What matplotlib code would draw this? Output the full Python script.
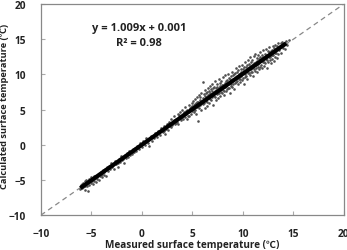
import matplotlib
matplotlib.use("Agg")
import matplotlib.pyplot as plt

plt.rcParams['font.family'] = ['Open Sans', 'Noto Sans CJK KR', 'DejaVu Sans']

measured = [
    -6.1, -6.0, -5.9, -5.8, -5.8, -5.7, -5.6, -5.6, -5.5, -5.5, -5.4, -5.4, -5.3, -5.3, -5.2, -5.2, -5.1, -5.0, -5.0, -4.9,
    -4.9, -4.8, -4.8, -4.7, -4.7, -4.6, -4.5, -4.5, -4.4, -4.3, -4.3, -4.2, -4.1, -4.0, -4.0, -3.9, -3.8, -3.7, -3.6, -3.5,
    -3.4, -3.3, -3.2, -3.1, -3.0, -2.9, -2.8, -2.7, -2.6, -2.5, -2.4, -2.3, -2.2, -2.1, -2.0, -1.9, -1.8, -1.7, -1.6, -1.5,
    -1.4, -1.3, -1.2, -1.1, -1.0, -0.9, -0.8, -0.7, -0.6, -0.5,
    -0.3, -0.2, 0.0, 0.1, 0.3, 0.4, 0.6, 0.7, 0.9, 1.0, 1.2, 1.3, 1.5, 1.6, 1.8, 1.9, 2.1, 2.2, 2.3, 2.4,
    2.5, 2.6, 2.7, 2.8, 2.9, 3.0, 3.1, 3.2, 3.3, 3.4, 3.5, 3.6, 3.6, 3.7, 3.8, 3.9, 4.0, 4.0, 4.1, 4.2,
    4.3, 4.3, 4.4, 4.5, 4.5, 4.6, 4.7, 4.7, 4.8, 4.9, 4.9, 5.0, 5.0,
    5.1, 5.1, 5.2, 5.2, 5.3, 5.3, 5.4, 5.4, 5.5, 5.5, 5.6, 5.6, 5.7, 5.7, 5.8, 5.8, 5.9, 5.9, 6.0, 6.0,
    6.0, 6.1, 6.1, 6.2, 6.2, 6.3, 6.3, 6.4, 6.4, 6.5, 6.5, 6.6, 6.6, 6.7, 6.7, 6.8, 6.8, 6.9, 6.9, 7.0,
    7.0, 7.1, 7.1, 7.2, 7.2, 7.3, 7.3, 7.4, 7.4, 7.5, 7.5, 7.6, 7.6, 7.7, 7.7, 7.8, 7.8, 7.9, 7.9, 8.0,
    8.0, 8.1, 8.1, 8.2, 8.2, 8.3, 8.3, 8.4, 8.4, 8.5, 8.5, 8.6, 8.6, 8.7, 8.7, 8.8, 8.8, 8.9, 8.9, 9.0,
    9.0, 9.1, 9.1, 9.2, 9.2, 9.3, 9.3, 9.4, 9.4, 9.5, 9.5, 9.6, 9.6, 9.7, 9.7, 9.8, 9.8, 9.9, 9.9, 10.0,
    10.0, 10.1, 10.1, 10.2, 10.2, 10.3, 10.3, 10.4, 10.4, 10.5, 10.5, 10.6, 10.6, 10.7, 10.7, 10.8, 10.8, 10.9, 10.9, 11.0,
    11.0, 11.1, 11.1, 11.2, 11.2, 11.3, 11.3, 11.4, 11.4, 11.5, 11.5, 11.6, 11.6, 11.7, 11.7, 11.8, 11.8, 11.9, 11.9, 12.0,
    12.0, 12.1, 12.1, 12.2, 12.2, 12.3, 12.3, 12.4, 12.4, 12.5, 12.5, 12.6, 12.6, 12.7, 12.7, 12.8, 12.8, 12.9, 12.9, 13.0,
    13.0, 13.1, 13.1, 13.2, 13.2, 13.3, 13.4, 13.4, 13.5, 13.5, 13.6, 13.7, 13.8, 13.9, 14.0, 14.1, 14.2, 14.3, 14.4, 14.6,
    2.2, 2.6, 2.9, 3.2, 3.4, 3.7, 3.9, 4.1, 4.4, 4.6, 4.8, 5.0, 5.2, 5.3, 5.5, 5.6, 5.8, 5.9, 6.1, 6.2,
    6.3, 6.4, 6.5, 6.6, 6.7, 6.8, 6.9, 7.0, 7.1, 7.2, 7.3, 7.4, 7.5, 7.6, 7.7, 7.8, 7.9, 8.0, 8.1, 8.2,
    8.3, 8.4, 8.5, 8.6, 8.7, 8.8, 8.9, 9.0, 9.1, 9.2, 9.3, 9.4, 9.5, 9.6, 9.7, 9.8, 9.9, 10.0, 10.1, 10.2,
    10.3, 10.4, 10.5, 10.6, 10.7, 10.8, 10.9, 11.0, 11.1, 11.2, 11.3, 11.4, 11.5, 11.6, 11.7, 11.8, 11.9, 12.0, 12.1, 12.2,
    12.3, 12.4, 12.5, 12.6, 12.7, 12.8, 12.9, 13.0, 13.1, 13.2, 13.3, 13.4, 13.6, 13.8, 14.0,
    -5.9, -5.6, -5.3, -5.0, -4.7, -4.4, -4.1, -3.8, -3.3, -2.9, -2.4, -1.9, -1.4, -0.9,
]
calculated = [
    -6.3, -5.7, -6.1, -5.4, -6.0, -5.9, -5.2, -6.4, -5.6, -5.0, -5.8, -5.3, -6.6, -5.5, -4.9, -5.7, -5.1, -5.4, -4.6, -5.2,
    -4.8, -5.6, -4.9, -4.5, -5.1, -4.7, -5.3, -4.4, -4.9, -4.2, -5.0, -4.5, -3.9, -4.6, -4.1, -3.6, -4.3, -3.5, -4.4, -3.2,
    -3.7, -3.0, -3.5, -2.6, -3.2, -2.9, -3.4, -2.3, -2.8, -2.5, -3.1, -2.0, -2.4, -1.6, -2.2, -1.8, -2.6, -1.4, -1.9, -1.2,
    -1.7, -0.9, -1.5, -1.0, -1.3, -0.6, -1.1, -0.4, -0.9, -0.2,
    -0.6, 0.2, -0.3, 0.5, 0.0, 0.9, 0.3, -0.2, 1.2, 0.6, 1.0, 1.7, 1.1, 2.0, 1.4, 2.4, 1.8, 2.7, 1.5, 2.3,
    2.9, 2.1, 3.3, 2.6, 3.6, 2.8, 3.4, 4.1, 2.9, 3.7, 3.2, 4.4, 3.0, 3.9, 4.7, 3.5, 4.2, 5.0, 3.6, 4.6,
    3.9, 5.3, 4.3, 3.7, 5.0, 4.6, 5.6, 4.1, 4.9, 5.4, 4.4, 5.9, 4.8,
    5.3, 6.2, 4.6, 5.7, 6.5, 5.0, 5.9, 4.3, 6.8, 5.4, 3.4, 6.1, 5.2, 7.0, 6.3, 5.6, 7.4, 4.9, 6.6, 8.9,
    5.8, 7.2, 6.0, 5.2, 7.8, 6.8, 6.2, 7.5, 5.5, 8.1, 6.6, 7.0, 5.9, 8.4, 7.3, 6.3, 7.9, 6.8, 8.6, 7.4,
    5.7, 8.2, 6.9, 7.6, 9.1, 6.4, 8.0, 7.2, 8.7, 7.8, 6.6, 9.3, 7.4, 8.4, 6.9, 7.9, 9.0, 7.3, 8.5, 7.8,
    9.6, 8.2, 7.0, 8.8, 9.9, 7.6, 8.4, 9.2, 7.9, 8.7, 10.1, 8.1, 9.5, 7.4, 8.9, 9.8, 8.3, 9.1, 10.4, 8.6,
    9.9, 9.3, 7.9, 10.2, 8.8, 9.6, 10.9, 9.0, 9.8, 10.6, 8.6, 9.4, 11.2, 10.1, 8.9, 9.7, 10.8, 9.2, 11.4, 10.3,
    9.5, 11.0, 8.7, 10.0, 11.7, 9.8, 10.6, 11.3, 9.4, 10.9, 12.1, 10.2, 11.5, 9.9, 12.4, 10.8, 11.8, 10.4, 12.0, 11.2,
    9.8, 12.6, 10.7, 11.5, 12.9, 10.9, 11.8, 12.3, 10.4, 11.1, 12.8, 11.7, 10.8, 12.4, 13.2, 11.3, 12.1, 10.9, 12.7, 11.8,
    13.4, 12.3, 11.2, 12.9, 11.6, 13.6, 12.2, 10.9, 12.6, 13.3, 11.8, 12.4, 13.9, 12.0, 13.0, 11.6, 12.7, 13.5, 12.2, 14.0,
    12.8, 11.9, 13.3, 12.5, 14.2, 13.0, 12.3, 13.7, 14.5, 12.9, 13.4, 14.1, 13.1, 14.6, 13.8, 14.3, 13.6, 14.8, 14.2, 14.9,
    2.0, 3.0, 2.5, 3.5, 3.1, 4.2, 3.8, 4.4, 4.8, 4.1, 5.2, 5.5, 5.0, 5.8, 6.1, 5.5, 6.8, 6.0, 6.4, 6.9,
    7.3, 6.1, 7.0, 7.7, 6.5, 7.2, 7.6, 8.0, 7.3, 6.8, 7.7, 8.2, 7.3, 8.0, 8.8, 7.5, 8.1, 8.5, 7.6, 8.2,
    9.0, 8.6, 8.0, 8.8, 9.4, 8.6, 8.2, 9.4, 10.0, 9.3, 8.9, 10.3, 9.6, 10.0, 9.4, 10.3, 10.0, 10.8, 10.2, 9.6,
    11.1, 10.5, 10.2, 10.9, 11.2, 10.3, 11.4, 11.0, 11.6, 10.5, 11.3, 11.9, 11.5, 12.2, 11.0, 11.9, 12.3, 12.5, 11.7, 12.4,
    12.8, 12.0, 12.6, 13.2, 12.5, 13.3, 12.7, 13.2, 13.8, 13.0, 13.6, 14.0, 13.9, 14.4, 14.2,
    -5.6, -5.8, -5.1, -5.0, -4.8, -4.6, -4.3, -3.9, -3.3, -2.7, -2.6, -2.0, -1.3, -1.0,
]

slope = 1.009
intercept = 0.001
r_squared = 0.98
axis_limits = [-10, 20]
ticks = [-10, -5, 0, 5, 10, 15, 20]

fig = plt.figure(figsize=(3.47, 2.51), dpi=100)
ax = fig.add_axes([0.118, 0.139, 0.873, 0.841])

ax.plot(axis_limits, axis_limits, linestyle=(0, (4, 3)), color='#888888', linewidth=0.9, zorder=1)
ax.scatter(measured, calculated, s=3.5, color='#505050', linewidths=0, zorder=2)
x0, x1 = min(measured), max(measured) - 0.3
ax.plot([x0, x1], [slope * x0 + intercept, slope * x1 + intercept], color='black', linewidth=3, zorder=3,
        solid_capstyle='butt')

ax.set_xlim(axis_limits)
ax.set_ylim(axis_limits)
ax.set_xticks(ticks)
ax.set_yticks(ticks)
ax.tick_params(direction='in', length=3, color='#aaaaaa', labelsize=7.3)
ax.tick_params(axis='x', pad=9)
ax.tick_params(axis='y', pad=11)
for lab in ax.get_xticklabels() + ax.get_yticklabels():
    lab.set_fontweight('bold')
    lab.set_color('#222222')
for sp in ax.spines.values():
    sp.set_color('#888888')
    sp.set_linewidth(0.9)

ax.set_xlabel('Measured surface temperature (℃)', fontsize=7.2, fontweight='bold', labelpad=0, color='#222222')
ax.set_ylabel('Calculated surface temperature (℃)', fontsize=6.7, fontweight='bold', color='#222222')
ax.yaxis.set_label_coords(-0.104, 0.52)

ax.text(-0.3, 16.7, f'y = {slope}x + {intercept}', ha='center', va='center', fontsize=8, fontweight='bold',
        color='#222222')
ax.text(-0.3, 14.5, f'R² = {r_squared}', ha='center', va='center', fontsize=8, fontweight='bold',
        color='#222222')

fig.savefig('out.png', dpi=100)
